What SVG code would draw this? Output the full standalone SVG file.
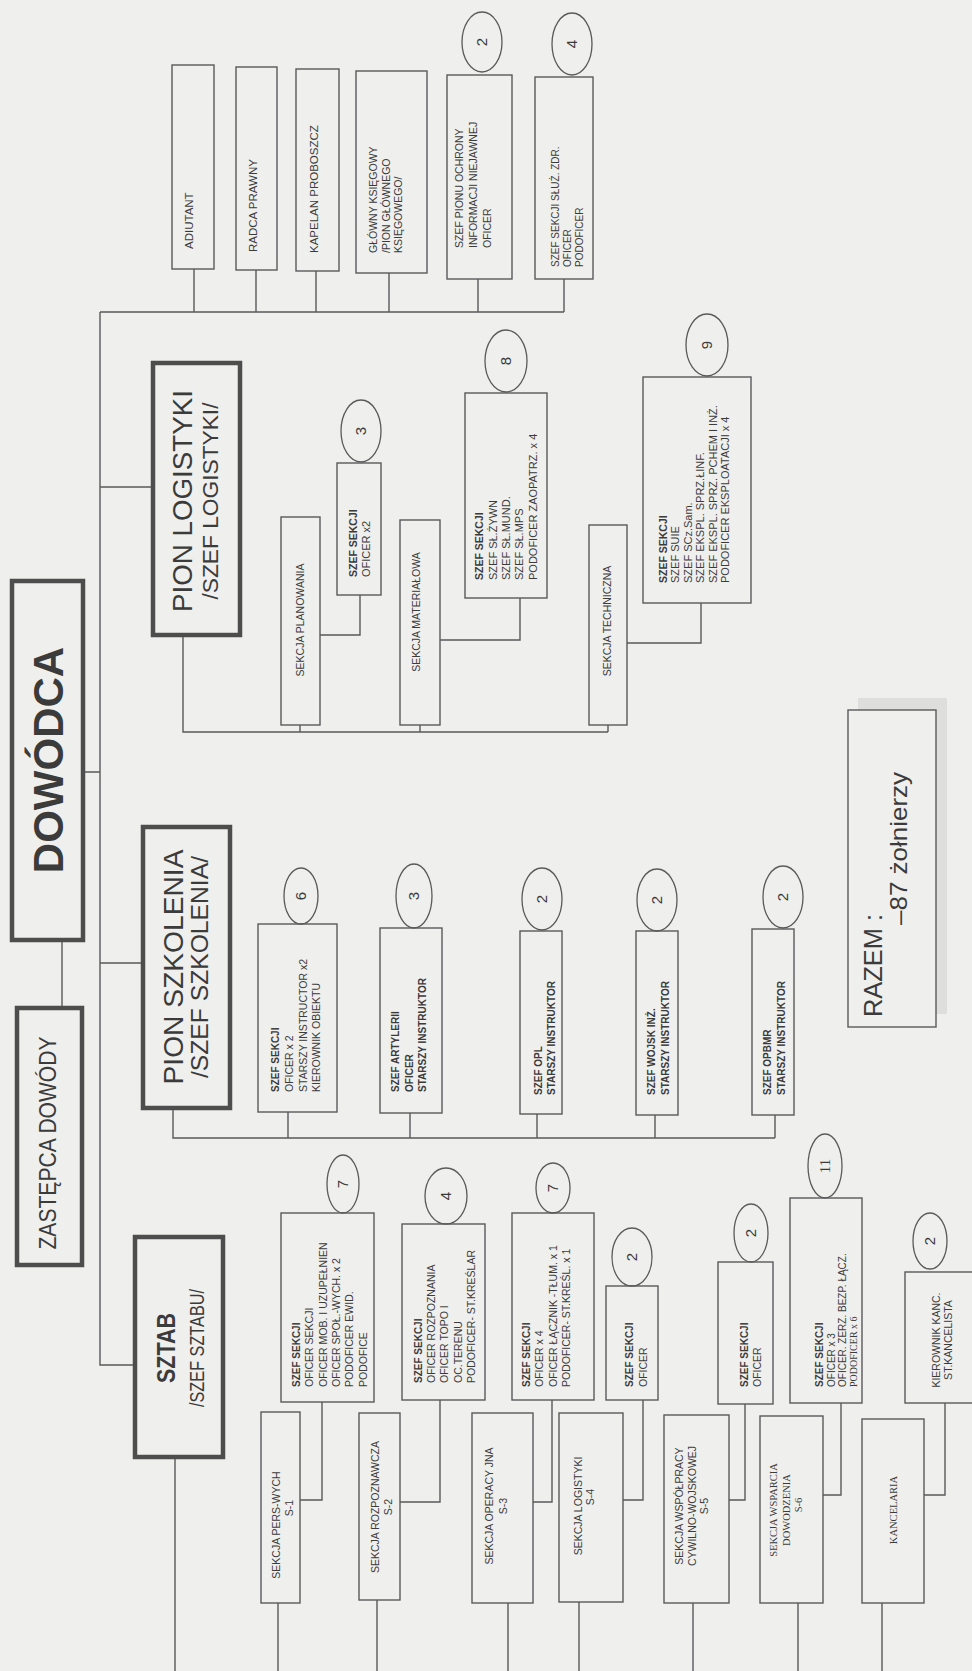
<svg xmlns="http://www.w3.org/2000/svg" width="972" height="1671" viewBox="0 0 972 1671">
<style>
.bg{fill:#efefed}
.b{fill:none;stroke:#5a5a5a;stroke-width:1.4}
.bt{fill:none;stroke:#4d4d4d;stroke-width:4.5}
.e{fill:none;stroke:#5a5a5a;stroke-width:1.3}
.c{fill:none;stroke:#5a5a5a;stroke-width:1.4}
text{font-family:"Liberation Sans",Arial,sans-serif;fill:#3b3b3b}
.t11{font-size:11.5px}
.s{font-size:10.5px}
.s10{font-size:10px}
.sb{font-size:10px;font-weight:bold}
.l{font-size:11px}
.lb{font-size:10.5px;font-weight:bold}
.n{font-size:15px;text-anchor:middle}
.m{text-anchor:middle}
.sf{font-family:"Liberation Serif","Times New Roman",serif}
</style>
<rect class="bg" x="0" y="0" width="972" height="1671"/>

<g id="connectors">
<path class="c" d="M100 312 H564 M194 269 V312 M256 270 V312 M316 271 V312 M389 273 V312 M478 279 V312 M564 279 V312
M100 312 V1365 H135 M100 487 H153 M83 772 H100 M62 940 V1008 M100 963 H143
M183 635 V732 H608 M300 725 V732 M420 725 V732 M608 725 V732
M360 595 V635 H320 M520 598 V640 H440 M701 603 V643 H627
M173 1108 V1138 H775 M288 1112 V1138 M410 1113 V1138 M537 1114 V1138 M655 1115 V1138 M775 1115 V1138
M175 1457 V1671
M322 1402 V1500 H300 M440 1400 V1502 H400 M552 1400 V1502 H533 M643 1400 V1500 H623 M745 1404 V1500 H729 M841 1403 V1495 H823 M945 1403 V1495 H924
M278 1603 V1671 M377 1600 V1671 M508 1603 V1671 M579 1602 V1671 M693 1603 V1671 M798 1603 V1671 M882 1603 V1671"/>
</g>

<g id="adiutant"><rect class="b" x="172" y="65" width="42" height="204"/>
<g transform="matrix(0,-1,1,0,0,1671)"><text class="t11" x="1422" y="193">ADIUTANT</text></g></g>
<g id="radca"><rect class="b" x="236" y="67" width="41" height="203"/>
<g transform="matrix(0,-1,1,0,0,1671)"><text class="t11" x="1419" y="257">RADCA PRAWNY</text></g></g>
<g id="kapelan"><rect class="b" x="296" y="69" width="43" height="202"/>
<g transform="matrix(0,-1,1,0,0,1671)"><text class="t11" x="1418" y="318">KAPELAN PROBOSZCZ</text></g></g>
<g id="ksiegowy"><rect class="b" x="356" y="71" width="71" height="202"/>
<g transform="matrix(0,-1,1,0,0,1671)"><text class="s" x="1418" y="377">GŁÓWNY KSIĘGOWY</text><text class="s" x="1418" y="390">/PION GŁÓWNEGO</text><text class="s" x="1418" y="402">KSIĘGOWEGO/</text></g></g>
<g id="ochrona"><rect class="b" x="447" y="75" width="65" height="204"/><ellipse class="e" cx="482" cy="42" rx="20" ry="30"/>
<g transform="matrix(0,-1,1,0,0,1671)"><text class="n" x="1629" y="487">2</text><text class="s" x="1423" y="463">SZEF PIONU OCHRONY</text><text class="s" x="1423" y="477">INFORMACJI NIEJAWNEJ</text><text class="s" x="1423" y="491">OFICER</text></g></g>
<g id="sluzba-zdrowia"><rect class="b" x="535" y="77" width="58" height="202"/><ellipse class="e" cx="572" cy="44" rx="20" ry="31"/>
<g transform="matrix(0,-1,1,0,0,1671)"><text class="n" x="1627" y="577">4</text><text class="s10" x="1404" y="559">SZEF SEKCJI SŁUŻ. ZDR.</text><text class="s10" x="1404" y="571">OFICER</text><text class="s10" x="1404" y="583">PODOFICER</text></g></g>

<g id="dowodca"><rect class="bt" x="12" y="581" width="71" height="359"/>
<g transform="matrix(0,-1,1,0,0,1671)"><text class="m" x="911" y="63" style="font-size:42px;font-weight:bold">DOWÓDCA</text></g></g>
<g id="zastepca"><rect class="bt" x="17" y="1008" width="65" height="257"/>
<g transform="matrix(0,-1,1,0,0,1671)"><text class="m" x="528" y="56" style="font-size:24px" textLength="213" lengthAdjust="spacingAndGlyphs">ZASTĘPCA DOWÓDY</text></g></g>
<g id="pion-logistyki"><rect class="bt" x="153" y="363" width="87" height="272"/>
<g transform="matrix(0,-1,1,0,0,1671)"><text class="m" x="1170" y="192" style="font-size:28px" textLength="222" lengthAdjust="spacingAndGlyphs">PION LOGISTYKI</text><text class="m" x="1170" y="218" style="font-size:22px" textLength="197" lengthAdjust="spacingAndGlyphs">/SZEF LOGISTYKI/</text></g></g>
<g id="pion-szkolenia"><rect class="bt" x="143" y="827" width="87" height="281"/>
<g transform="matrix(0,-1,1,0,0,1671)"><text class="m" x="704" y="183" style="font-size:28px" textLength="235" lengthAdjust="spacingAndGlyphs">PION SZKOLENIA</text><text class="m" x="704" y="208" style="font-size:24px" textLength="222" lengthAdjust="spacingAndGlyphs">/SZEF SZKOLENIA/</text></g></g>
<g id="sztab"><rect class="bt" x="135" y="1237" width="88" height="220"/>
<g transform="matrix(0,-1,1,0,0,1671)"><text class="m" x="323" y="175" style="font-size:26px;font-weight:bold" textLength="70" lengthAdjust="spacingAndGlyphs">SZTAB</text><text class="m" x="323" y="204" style="font-size:20px" textLength="118" lengthAdjust="spacingAndGlyphs">/SZEF SZTABU/</text></g></g>

<g id="sekcja-planowania"><rect class="b" x="281" y="517" width="39" height="208"/>
<g transform="matrix(0,-1,1,0,0,1671)"><text class="s m" x="1051" y="304">SEKCJA PLANOWANIA</text></g></g>
<g id="szef-planowania"><rect class="b" x="337" y="463" width="44" height="132"/><ellipse class="e" cx="361" cy="431" rx="20" ry="31"/>
<g transform="matrix(0,-1,1,0,0,1671)"><text class="n" x="1240" y="366">3</text><text class="lb" x="1094" y="357">SZEF SEKCJI</text><text class="l" x="1094" y="370">OFICER x2</text></g></g>
<g id="sekcja-materialowa"><rect class="b" x="400" y="520" width="40" height="205"/>
<g transform="matrix(0,-1,1,0,0,1671)"><text class="s m" x="1059" y="420">SEKCJA MATERIAŁOWA</text></g></g>
<g id="szef-materialowa"><rect class="b" x="465" y="393" width="82" height="205"/><ellipse class="e" cx="506" cy="361" rx="21" ry="31"/>
<g transform="matrix(0,-1,1,0,0,1671)"><text class="n" x="1310" y="511">8</text><text class="lb" x="1091" y="483">SZEF SEKCJI</text><text class="l" x="1091" y="497">SZEF SŁ.ŻYWN</text><text class="l" x="1091" y="510">SZEF SŁ.MUND.</text><text class="l" x="1091" y="523">SZEF SŁ.MPS</text><text class="l" x="1091" y="537">PODOFICER ZAOPATRZ. x 4</text></g></g>
<g id="sekcja-techniczna"><rect class="b" x="589" y="525" width="38" height="200"/>
<g transform="matrix(0,-1,1,0,0,1671)"><text class="s m" x="1050" y="611">SEKCJA TECHNICZNA</text></g></g>
<g id="szef-techniczna"><rect class="b" x="643" y="377" width="108" height="226"/><ellipse class="e" cx="707" cy="345" rx="21" ry="31"/>
<g transform="matrix(0,-1,1,0,0,1671)"><text class="n" x="1326" y="712">9</text><text class="lb" x="1088" y="667">SZEF SEKCJI</text><text class="l" x="1088" y="679">SZEF SUIE</text><text class="l" x="1088" y="692">SZEF SCz.Sam.</text><text class="l" x="1088" y="704">SZEF EKSPL. SPRZ.ŁINF.</text><text class="l" x="1088" y="717">SZEF EKSPL. SPRZ. PCHEM I INŻ.</text><text class="l" x="1088" y="729">PODOFICER EKSPLOATACJI x 4</text></g></g>

<g id="szef-sekcji-szkolenia"><rect class="b" x="258" y="924" width="79" height="188"/><ellipse class="e" cx="301" cy="896" rx="17" ry="28"/>
<g transform="matrix(0,-1,1,0,0,1671)"><text class="n" x="775" y="306">6</text><text class="sb" x="579" y="279">SZEF SEKCJI</text><text class="s" x="579" y="293">OFICER x 2</text><text class="s" x="579" y="307">STARSZY INSTRUCTOR x2</text><text class="s" x="579" y="320">KIEROWNIK OBIEKTU</text></g></g>
<g id="szef-artylerii"><rect class="b" x="380" y="928" width="62" height="185"/><ellipse class="e" cx="414" cy="896" rx="18" ry="32"/>
<g transform="matrix(0,-1,1,0,0,1671)"><text class="n" x="775" y="419">3</text><text class="sb" x="579" y="399">SZEF ARTYLERII</text><text class="sb" x="579" y="413">OFICER</text><text class="sb" x="579" y="426">STARSZY INSTRUKTOR</text></g></g>
<g id="szef-opl"><rect class="b" x="520" y="931" width="42" height="183"/><ellipse class="e" cx="542" cy="899" rx="20" ry="31"/>
<g transform="matrix(0,-1,1,0,0,1671)"><text class="n" x="772" y="547">2</text><text class="sb" x="576" y="542">SZEF OPL</text><text class="sb" x="576" y="555">STARSZY INSTRUKTOR</text></g></g>
<g id="szef-wojsk-inz"><rect class="b" x="636" y="931" width="42" height="184"/><ellipse class="e" cx="657" cy="900" rx="20" ry="31"/>
<g transform="matrix(0,-1,1,0,0,1671)"><text class="n" x="771" y="662">2</text><text class="sb" x="576" y="655">SZEF WOJSK INŻ.</text><text class="sb" x="576" y="669">STARSZY INSTRUKTOR</text></g></g>
<g id="szef-opbmr"><rect class="b" x="752" y="929" width="42" height="186"/><ellipse class="e" cx="783" cy="897" rx="20" ry="31"/>
<g transform="matrix(0,-1,1,0,0,1671)"><text class="n" x="774" y="788">2</text><text class="sb" x="576" y="771">SZEF OPBMR</text><text class="sb" x="576" y="785">STARSZY INSTRUKTOR</text></g></g>

<g id="razem"><rect x="858" y="698" width="89" height="316" fill="#dededc"/><rect x="848" y="710" width="88" height="317" fill="#efefed" stroke="#5a5a5a" stroke-width="1.4"/>
<g transform="matrix(0,-1,1,0,0,1671)"><text x="654" y="882" style="font-size:26px" textLength="103" lengthAdjust="spacingAndGlyphs">RAZEM :</text><text x="746" y="907" style="font-size:24px" textLength="153" lengthAdjust="spacingAndGlyphs">–87 żołnierzy</text></g></g>

<g id="szef-s1"><rect class="b" x="281" y="1213" width="93" height="189"/><ellipse class="e" cx="343" cy="1184" rx="16" ry="29"/>
<g transform="matrix(0,-1,1,0,0,1671)"><text class="n" x="487" y="348">7</text><text class="sb" x="284" y="300">SZEF SEKCJI</text><text class="s" x="284" y="313">OFICER SEKCJI</text><text class="s" x="284" y="327">OFICER MOB. I UZUPEŁNIEN</text><text class="s" x="284" y="340">OFICER SPOŁ.-WYCH. x 2</text><text class="s" x="284" y="353">PODOFICER EWID.</text><text class="s" x="284" y="367">PODOFICE</text></g></g>
<g id="szef-s2"><rect class="b" x="402" y="1224" width="83" height="176"/><ellipse class="e" cx="446" cy="1196" rx="21" ry="28"/>
<g transform="matrix(0,-1,1,0,0,1671)"><text class="n" x="475" y="451">4</text><text class="sb" x="288" y="422">SZEF SEKCJI</text><text class="s" x="288" y="435">OFICER ROZPOZNANIA</text><text class="s" x="288" y="448">OFICER TOPO I</text><text class="s" x="288" y="462">OC.TERENU</text><text class="s" x="288" y="475">PODOFICER- ST.KREŚLAR</text></g></g>
<g id="szef-s3"><rect class="b" x="512" y="1213" width="82" height="187"/><ellipse class="e" cx="553" cy="1188" rx="17" ry="25"/>
<g transform="matrix(0,-1,1,0,0,1671)"><text class="n" x="483" y="558">7</text><text class="sb" x="284" y="530">SZEF SEKCJI</text><text class="s" x="284" y="543">OFICER x 4</text><text class="s" x="284" y="557">OFICER ŁĄCZNIK -TŁUM. x 1</text><text class="s" x="284" y="570">PODOFICER- ST.KREŚL. x 1</text></g></g>
<g id="szef-s4"><rect class="b" x="606" y="1286" width="52" height="114"/><ellipse class="e" cx="632" cy="1257" rx="20" ry="29"/>
<g transform="matrix(0,-1,1,0,0,1671)"><text class="n" x="414" y="637">2</text><text class="sb" x="284" y="633">SZEF SEKCJI</text><text class="s" x="284" y="647">OFICER</text></g></g>
<g id="szef-s5"><rect class="b" x="718" y="1262" width="55" height="142"/><ellipse class="e" cx="751" cy="1233" rx="17" ry="29"/>
<g transform="matrix(0,-1,1,0,0,1671)"><text class="n" x="438" y="756">2</text><text class="sb" x="284" y="748">SZEF SEKCJI</text><text class="s" x="284" y="761">OFICER</text></g></g>
<g id="szef-s6"><rect class="b" x="790" y="1198" width="72" height="205"/><ellipse class="e" cx="825" cy="1166" rx="17" ry="32"/>
<g transform="matrix(0,-1,1,0,0,1671)"><text class="n sf" x="505" y="830">11</text><text class="sb" x="284" y="823">SZEF SEKCJI</text><text class="s10" x="284" y="835">OFICER x 3</text><text class="s10" x="284" y="846">OFICER. ZERZ. BEZP. ŁĄCZ.</text><text class="s10 sf" x="284" y="857">PODOFICER x 6</text></g></g>
<g id="kierownik-kanc"><rect class="b" x="905" y="1272" width="70" height="131"/><ellipse class="e" cx="930" cy="1241" rx="17" ry="28"/>
<g transform="matrix(0,-1,1,0,0,1671)"><text class="n" x="430" y="935">2</text><text class="s m" x="331" y="940">KIEROWNIK KANC.</text><text class="s m" x="331" y="952">ST.KANCELISTA</text></g></g>

<g id="s1"><rect class="b" x="261" y="1412" width="39" height="191"/>
<g transform="matrix(0,-1,1,0,0,1671)"><text class="s m" x="146" y="280">SEKCJA PERS-WYCH</text><text class="s m" x="163" y="293">S-1</text></g></g>
<g id="s2"><rect class="b" x="359" y="1413" width="41" height="187"/>
<g transform="matrix(0,-1,1,0,0,1671)"><text class="s m" x="164" y="379">SEKCJA ROZPOZNAWCZA</text><text class="s m" x="164" y="392">S-2</text></g></g>
<g id="s3"><rect class="b" x="472" y="1413" width="61" height="190"/>
<g transform="matrix(0,-1,1,0,0,1671)"><text class="s m" x="165" y="493">SEKCJA OPERACY JNA</text><text class="s m" x="165" y="507">S-3</text></g></g>
<g id="s4"><rect class="b" x="559" y="1413" width="64" height="189"/>
<g transform="matrix(0,-1,1,0,0,1671)"><text class="s m" x="165" y="582">SEKCJA LOGISTYKI</text><text class="s m" x="174" y="594">S-4</text></g></g>
<g id="s5"><rect class="b" x="664" y="1415" width="65" height="188"/>
<g transform="matrix(0,-1,1,0,0,1671)"><text class="s m" x="165" y="683">SEKCJA WSPÓŁPRACY</text><text class="s m" x="165" y="696">CYWILNO-WOJSKOWEJ</text><text class="s m" x="165" y="708">S-5</text></g></g>
<g id="s6"><rect class="b" x="760" y="1416" width="63" height="187"/>
<g transform="matrix(0,-1,1,0,0,1671)"><text class="s m sf" x="161" y="777">SEKCJA WSPARCIA</text><text class="s m sf" x="161" y="790">DOWODZENIA</text><text class="s m sf" x="166" y="802">S-6</text></g></g>
<g id="kancelaria"><rect class="b" x="862" y="1419" width="62" height="184"/>
<g transform="matrix(0,-1,1,0,0,1671)"><text class="s m sf" x="161" y="897">KANCELARIA</text></g></g>
</svg>
